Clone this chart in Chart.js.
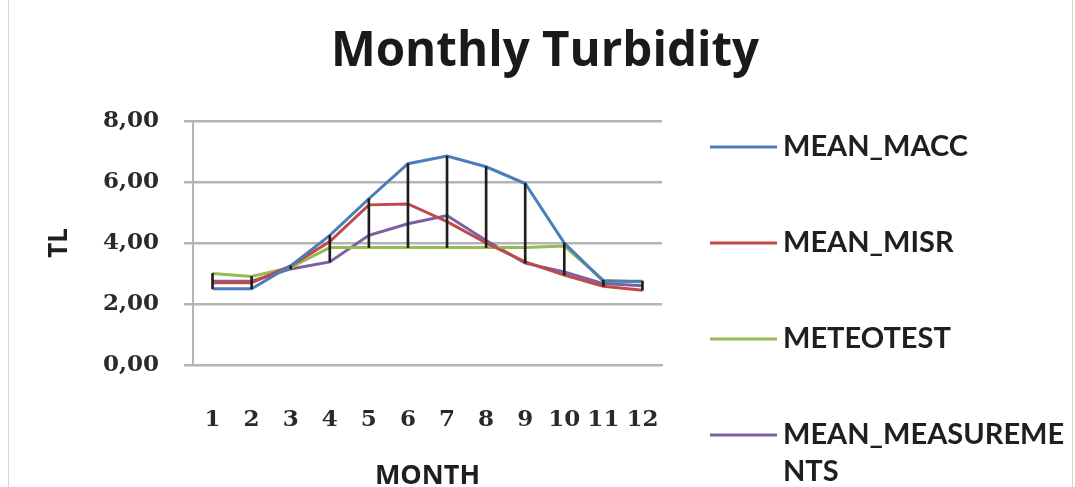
<!DOCTYPE html>
<html>
<head>
<meta charset="utf-8">
<script src="https://cdn.jsdelivr.net/npm/chart.js@4.4.1/dist/chart.umd.min.js"></script>
<style>
    body { margin: 0; background: #fff; }
    #wrap { position: relative; width: 1075px; height: 487px; }
    #frame { position: absolute; left: 8px; top: 0; width: 1063px; height: 487px;
             border-left: 1px solid #d6d6d6; border-right: 1px solid #d6d6d6; pointer-events: none; }
</style>
</head>
<body>
<div id="wrap">
    <canvas id="turbidityChart" width="1075" height="487"></canvas>
    <div id="frame"></div>
</div>
<script>
// Values
const months = ['1', '2', '3', '4', '5', '6', '7', '8', '9', '10', '11', '12'];
const meanMacc = [2.50, 2.50, 3.25, 4.25, 5.45, 6.60, 6.85, 6.50, 5.95, 4.00, 2.75, 2.75];
const meanMisr = [2.70, 2.70, 3.25, 4.05, 5.25, 5.28, 4.70, 4.00, 3.38, 2.95, 2.58, 2.45];
const meteotest = [3.00, 2.90, 3.20, 3.85, 3.85, 3.85, 3.85, 3.85, 3.85, 3.90, 2.78, 2.72];
const meanMeasurements = [2.75, 2.75, 3.15, 3.38, 4.25, 4.63, 4.90, 4.08, 3.34, 3.05, 2.67, 2.60];
const yTickLabels = ['0,00', '2,00', '4,00', '6,00', '8,00'];

const seriesDefs = [
    { label: 'MEAN_MACC', data: meanMacc, color: '#4a7ebb' },
    { label: 'MEAN_MISR', data: meanMisr, color: '#be4b48' },
    { label: 'METEOTEST', data: meteotest, color: '#98b954' },
    { label: 'MEAN_MEASUREMENTS', data: meanMeasurements, color: '#7d60a0' }
];

// High-low lines: span from lowest to highest series value per month
const highLow = months.map((m, i) => {
    const vals = seriesDefs.map(s => s.data[i]);
    return [Math.min(...vals), Math.max(...vals)];
});

// Legend drawn beside the plot, with wrapping like the original
const sideLegend = {
    id: 'sideLegend',
    afterDraw(chart) {
        const ctx = chart.ctx;
        const area = chart.chartArea;
        const lineStart = area.right + 48;
        const lineEnd = area.right + 115;
        const textX = area.right + 121;
        const maxW = 290;
        ctx.save();
        ctx.font = 'bold 29px Lato';
        ctx.textBaseline = 'middle';
        ctx.fillStyle = '#1f1f1f';
        seriesDefs.forEach((s, i) => {
            const y = area.top + 26 + i * 96;
            ctx.strokeStyle = s.color;
            ctx.lineWidth = 3;
            ctx.beginPath();
            ctx.moveTo(lineStart, y);
            ctx.lineTo(lineEnd, y);
            ctx.stroke();

            // character wrap
            const lines = [];
            let cur = '';
            for (const ch of s.label) {
                if (ctx.measureText(cur + ch).width > maxW && cur) {
                    lines.push(cur);
                    cur = ch;
                } else {
                    cur += ch;
                }
            }
            lines.push(cur);
            lines.forEach((ln, j) => ctx.fillText(ln, textX, y + j * 37));
        });
        ctx.restore();
    }
};

const lineDatasets = seriesDefs.map(s => ({
    type: 'line',
    label: s.label,
    data: s.data,
    borderColor: s.color,
    backgroundColor: s.color,
    borderWidth: 3,
    pointRadius: 0,
    tension: 0,
    order: 1
}));

new Chart(document.getElementById('turbidityChart'), {
    type: 'bar',
    data: {
        labels: months,
        datasets: [
            ...lineDatasets,
            {
                type: 'bar',
                label: 'high-low',
                data: highLow,
                backgroundColor: '#1e1e1e',
                borderWidth: 0,
                barThickness: 2,
                order: 0
            }
        ]
    },
    options: {
        responsive: false,
        animation: false,
        devicePixelRatio: 1,
        layout: {
            padding: { left: 15, right: 0, top: 0, bottom: 0 }
        },
        plugins: {
            legend: { display: false },
            tooltip: { enabled: false },
            title: {
                display: true,
                text: 'Monthly Turbidity',
                color: '#1a1a1a',
                font: { family: 'Open Sans', size: 47.5, weight: 'bold', lineHeight: 1.2 },
                padding: { top: 24, bottom: 40 }
            }
        },
        scales: {
            x: {
                offset: true,
                afterFit(scale) { scale.height = 122; },
                grid: { display: false },
                border: { display: true, color: '#b5b5b5', width: 2 },
                ticks: {
                    color: '#2a2a2a',
                    padding: 33,
                    maxRotation: 0,
                    autoSkip: false,
                    font: { family: 'DejaVu Serif', size: 23, weight: 'bold', lineHeight: 1.2 }
                },
                title: {
                    display: true,
                    text: 'MONTH',
                    color: '#1f1f1f',
                    font: { family: 'Open Sans', size: 27, weight: 'bold', lineHeight: 0.8 },
                    padding: { top: 35, bottom: 0 }
                }
            },
            y: {
                min: 0,
                max: 8,
                afterFit(scale) { scale.width = 178; },
                grid: { color: '#b5b5b5', lineWidth: 2.5, tickLength: 9, drawTicks: true },
                border: { display: true, color: '#b5b5b5', width: 2 },
                ticks: {
                    stepSize: 2,
                    padding: 25,
                    color: '#2a2a2a',
                    font: { family: 'DejaVu Serif', size: 23, weight: 'bold' },
                    callback: (v) => yTickLabels[v / 2]
                },
                title: {
                    display: true,
                    text: 'TL',
                    color: '#1f1f1f',
                    font: { family: 'Open Sans', size: 26, weight: 'bold', lineHeight: 1 },
                    padding: { top: 32, bottom: 0 }
                }
            },
            yRight: {
                position: 'right',
                display: true,
                afterFit(scale) { scale.width = 413; },
                grid: { display: false },
                border: { display: false },
                ticks: { display: false }
            }
        }
    },
    plugins: [sideLegend]
});
</script>
</body>
</html>
